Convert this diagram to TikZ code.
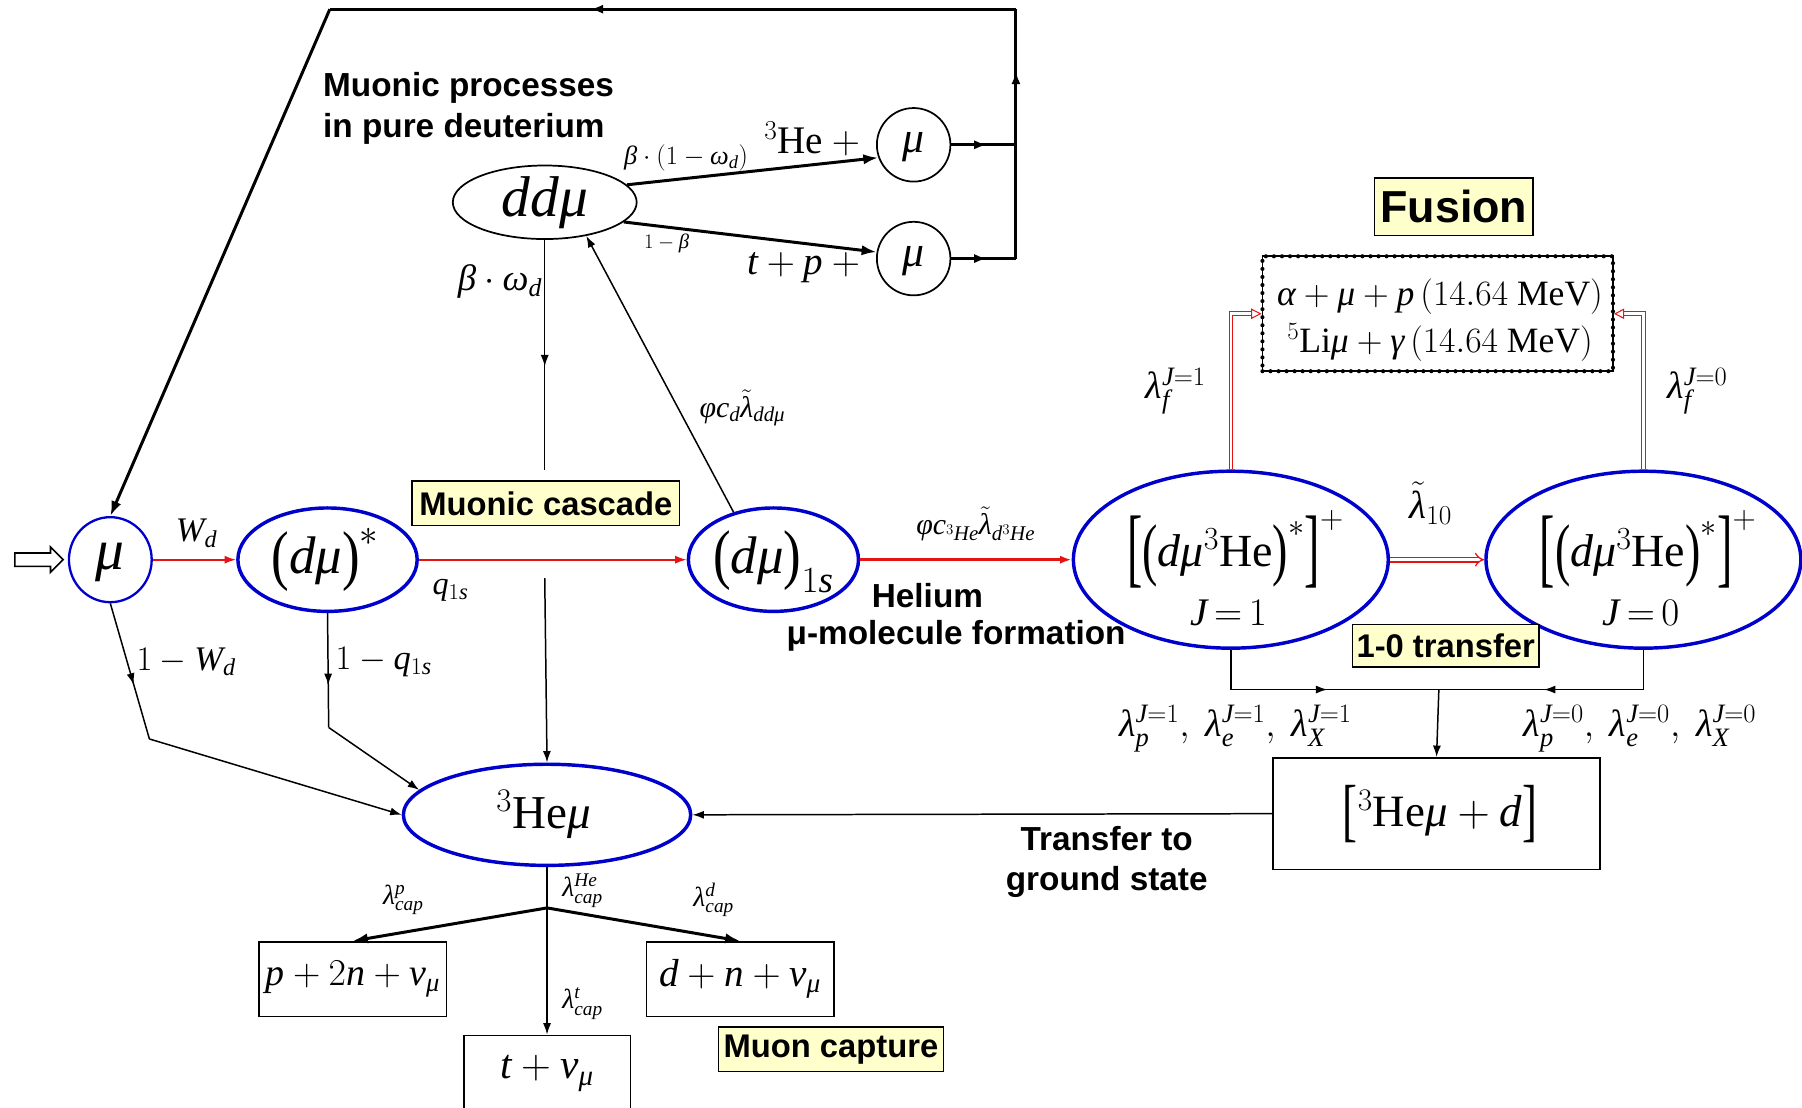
\RequirePackage{fix-cm}
\documentclass[tikz,border=0pt]{standalone}
\usepackage{graphicx}
\usepackage{fontspec}
\setmainfont{Liberation Serif}
\newfontfamily\lab{Liberation Sans}
\DeclareSymbolFont{tlet}{TU}{\rmdefault}{m}{it}
\DeclareSymbolFont{tup}{TU}{\rmdefault}{m}{n}
\count255=97
\loop \Umathcode\count255=7 \symtlet \count255 \advance\count255 by 1 \ifnum\count255<123 \repeat
\count255=65
\loop \Umathcode\count255=7 \symtlet \count255 \advance\count255 by 1 \ifnum\count255<91 \repeat
\count255=48
\loop \Umathcode\count255=0 \symtup \count255 \advance\count255 by 1 \ifnum\count255<58 \repeat
\Umathchardef\mu=0 \symtlet "03BC
\Umathchardef\beta=0 \symtlet "03B2
\Umathchardef\omega=0 \symtlet "03C9
\Umathchardef\lambda=0 \symtlet "03BB
\Umathchardef\varphi=0 \symtlet "03C6
\Umathchardef\alpha=0 \symtlet "03B1
\Umathchardef\gamma=0 \symtlet "03B3
\Umathchardef\nu=0 \symtlet "03BD
\usetikzlibrary{arrows.meta,shapes.geometric,shapes.arrows,decorations.markings,calc}
\definecolor{eblue}{RGB}{0,0,204}
\definecolor{ered}{RGB}{228,20,20}
\definecolor{ybg}{RGB}{255,255,204}
\newcommand\fsz[2]{\fontsize{#1}{#2}\selectfont}
\newcommand\eqs{\mkern-2mu=\mkern-2mu}
\newcommand\LD[3]{\mathopen{\raisebox{#3}{\scalebox{1}[#2]{#1}}}}
\newcommand\RD[3]{\mathclose{\raisebox{#3}{\scalebox{1}[#2]{#1}}}}
\begin{document}
\begin{tikzpicture}[x=1pt,y=-1pt,
  ell/.style={ellipse, draw, inner sep=0pt},
  bell/.style={ell, draw=eblue, line width=3pt},
  kell/.style={ell, draw=black, line width=1.5pt},
  ybox/.style={draw, fill=ybg, line width=1.2pt, font=\lab\bfseries\fsz{28.5}{32}, inner sep=3pt},
  blab/.style={font=\lab\bfseries\fsz{29}{35}, align=center, inner sep=0pt},
  tx/.style={inner sep=0pt, font=\fsz{#1}{#1}},
  con/.style={line width=1.3pt},
  heavy/.style={line width=2.6pt},
  tipS/.style={-{Latex[length=10pt,width=7pt]}},
  tipH/.style={-{Latex[length=13pt,width=9pt]}},
  midarr/.style={decoration={markings, mark=at position #1 with {\arrow{Latex[length=10pt,width=7pt]}}}, postaction={decorate}},
  midarrH/.style={decoration={markings, mark=at position #1 with {\arrow{Latex[length=11pt,width=8pt]}}}, postaction={decorate}},
  rbox/.style={draw, line width=1.5pt, inner sep=0pt},
  redarr/.style={draw=ered, line width=1.6pt, -{Latex[length=10pt,width=7pt]}},
  rdbl/.style={draw=ered, double=white, double distance=2.2pt, line width=0.9pt}
]
\useasboundingbox (0,0) rectangle (1568,964);

% ---------- main row ----------
\node[single arrow, draw, line width=1.4pt, fill=white, minimum height=42pt, minimum width=22pt, single arrow head extend=5pt, inner sep=5pt] (inp) at (31,487) {};
\node[bell, line width=2pt, minimum width=72, minimum height=74] (mu) at (96,487) {};
\node[tx=50] (muT) at (96,489) {$\mu$};
\node[bell, minimum width=156, minimum height=90] (dms) at (285,487) {};
\node[tx=46] (dmsT) at (283,487) {$\LD{(}{1.25}{-0.06em}d\mu\RD{)}{1.25}{-0.06em}^{*}$};
\node[bell, minimum width=148, minimum height=90] (d1s) at (673,487) {};
\node[tx=46] (d1sT) at (673,489) {$\LD{(}{1.25}{-0.06em}d\mu\RD{)}{1.25}{-0.06em}_{1s}$};
\node[bell, minimum width=274, minimum height=154] (J1) at (1071,487) {};
\node[tx=40] (J1a) at (1075,478) {$\LD{[}{1.9}{-0.22em}\LD{(}{1.5}{-0.12em}d\mu^{3}\mathrm{He}\RD{)}{1.5}{-0.12em}^{*}\RD{]}{1.9}{-0.22em}^{+}$};
\node[tx=34] (J1b) at (1069,533) {$J\eqs1$};
\node[bell, minimum width=274, minimum height=154] (J0) at (1430,487) {};
\node[tx=40] (J0a) at (1434,478) {$\LD{[}{1.9}{-0.22em}\LD{(}{1.5}{-0.12em}d\mu^{3}\mathrm{He}\RD{)}{1.5}{-0.12em}^{*}\RD{]}{1.9}{-0.22em}^{+}$};
\node[tx=34] (J0b) at (1428,533) {$J\eqs0$};
\node[bell, minimum width=250, minimum height=88] (hemu) at (476,709) {};
\node[tx=41] (hemuT) at (473,709) {${}^{3}\mathrm{He}\mu$};

% ---------- upper part ----------
\node[kell, minimum width=160, minimum height=64] (ddmu) at (474,176) {};
\node[tx=50] (ddmuT) at (474,176) {$dd\mu$};
\node[kell, minimum width=64, minimum height=64] (muA) at (795,126) {};
\node[tx=38] (muAT) at (795,128) {$\mu$};
\node[kell, minimum width=64, minimum height=64] (muB) at (795,225) {};
\node[tx=38] (muBT) at (795,227) {$\mu$};
\node[tx=34, anchor=east] (heplus) at (756,121) {${}^{3}\mathrm{He}+{}$};
\node[tx=34, anchor=east] (tpplus) at (756,233) {$t+p+{}$};
\node[blab, align=left, anchor=north west] (mproc) at (281,63) {Muonic processes\\in pure deuterium};

% ---------- fusion ----------
\node[ybox, font=\lab\bfseries\fsz{39}{44}, minimum width=138, minimum height=50, inner sep=0pt] (fusion) at (1265,180) {Fusion};
\node[rbox, minimum width=305, minimum height=100, line width=1.6pt,
      postaction={draw, line width=3.6pt, dash pattern=on 0pt off 7pt, line cap=round}] (fus) at (1251,273) {};
\node[tx=31] (fus1) at (1253,258) {$\alpha+\mu+p\,(14.64\ \mathrm{MeV})$};
\node[tx=31] (fus2) at (1253,298) {${}^{5}\mathrm{Li}\mu+\gamma\,(14.64\ \mathrm{MeV})$};

% ---------- lower right ----------
\node[rbox, minimum width=285, minimum height=97] (hed) at (1250,708) {};
\node[tx=39] (hedT) at (1253,708) {$\LD{[}{1.55}{-0.14em}{}^{3}\mathrm{He}\mu+d\RD{]}{1.55}{-0.14em}$};

% ---------- capture ----------
\node[rbox, minimum width=163, minimum height=65] (p2n) at (307,852) {};
\node[tx=33] (p2nT) at (307,852) {$p+2n+\nu_{\mu}$};
\node[rbox, minimum width=163, minimum height=65] (dnn) at (644,852) {};
\node[tx=34] (dnnT) at (644,852) {$d+n+\nu_{\mu}$};
\node[rbox, minimum width=145, minimum height=72] (tnu) at (476,937) {};
\node[tx=36] (tnuT) at (476,934) {$t+\nu_{\mu}$};

% ---------- yellow labels ----------
\node[ybox, minimum width=233, minimum height=39, inner sep=0pt] (casc) at (475,438) {Muonic cascade};
\node[ybox, minimum width=162, minimum height=37, inner sep=0pt] (tr10) at (1258,562) {1-0 transfer};
\node[ybox, minimum width=196, minimum height=39, inner sep=0pt] (mcap) at (723,913) {Muon capture};

% ---------- bold labels ----------
\node[blab] (helA) at (807,518) {Helium};
\node[blab] (helB) at (832,553) {μ-molecule formation};
\node[blab] (trg) at (963,750) {Transfer to\\ground state};

% ---------- connectors: top loop ----------
\coordinate (TL) at (287,8);
\coordinate (TR) at (884,8);
\coordinate (RA) at (884,126);
\coordinate (RB) at (884,225);
\draw[heavy, midarrH=0.55] (muA.east) -- (RA);
\draw[heavy, midarrH=0.55] (muB.east) -- (RB);
\draw[heavy, midarrH=0.75] (RB) -- (TR);
\draw[heavy, midarrH=0.62] (TR) -- (TL);
\draw[heavy, tipH] (TL) -- (mu.north);

\draw[heavy, tipH] (ddmu.12) -- (muA.200);
\draw[heavy, tipH] (ddmu.-14) -- (muB.170);
\node[tx=23] (lbA) at (597,137) {$\beta\cdot\bigl(1-\omega_{d}\bigr)$};
\node[tx=18] (lbB) at (580,212) {$1-\beta$};

\coordinate (Cc) at (474,409);
\draw[con, midarr=0.55] (ddmu.south) -- (Cc);
\node[tx=32] (lbw) at (435,245) {$\beta\cdot\omega_{d}$};
\draw[con, tipS] (d1s.130) -- (ddmu.-39);
\node[tx=26] (lbphi) at (646,355) {$\varphi c_{d}\tilde{\lambda}_{dd\mu}$};

% ---------- main row arrows ----------
\draw[redarr] (mu.east) -- (dms.west);
\draw[redarr] (dms.east) -- (d1s.west);
\draw[redarr, line width=2.4pt] (d1s.east) -- (J1.west);
\draw[draw=ered, double=white, double distance=3pt, line width=1.1pt, -{Implies}] (J1.east) -- (J0.west);
\node[tx=30] (lbW) at (171,464) {$W_{d}$};
\node[tx=28] (lbq) at (392,514) {$q_{1s}$};
\node[tx=26] (lbhe) at (849,456) {$\varphi c_{{}^{3}He}\tilde{\lambda}_{d^{3}He}$};
\node[tx=34] (lb10) at (1245,438) {$\tilde{\lambda}_{10}$};

% ---------- fusion arrows ----------
\draw[rdbl, -{Triangle[open,length=9pt,width=9pt]}] (J1.north) |- (fus.west);
\draw[rdbl, -{Triangle[open,length=9pt,width=9pt]}] (J0.north) |- (fus.east);
\node[tx=33] (lbf1) at (1023,340) {$\lambda_{f}^{J=1}$};
\node[tx=33] (lbf0) at (1477,340) {$\lambda_{f}^{J=0}$};

% ---------- J branches ----------
\coordinate (Bj) at (1252,600);
\draw[con, midarr=0.55] (J1.south) |- (Bj);
\draw[con, midarr=0.57] (J0.south) |- (Bj);
\draw[con, tipS] (Bj) -- (hed.north);
\node[tx=33] (lbJ1) at (1075,634) {$\lambda_{p}^{J=1},\ \lambda_{e}^{J=1},\ \lambda_{X}^{J=1}$};
\node[tx=33] (lbJ0) at (1427,634) {$\lambda_{p}^{J=0},\ \lambda_{e}^{J=0},\ \lambda_{X}^{J=0}$};
\draw[con, tipS] (hed.west) -- (hemu.east);

% ---------- into 3He mu ----------
\coordinate (K1) at (130,643);
\coordinate (K2) at (286,633);
\coordinate (V2) at (474,503);
\draw[con, midarr=0.6] (mu.south) -- (K1);
\draw[con, tipS] (K1) -- (hemu.west);
\draw[con, midarr=0.63] (dms.south) -- (K2);
\draw[con, tipS] (K2) -- (hemu.169);
\draw[con, tipS] (V2) -- (hemu.north);
\node[tx=30] (lb1W) at (162,576) {$1-W_{d}$};
\node[tx=30] (lb1q) at (334,576) {$1-q_{1s}$};

% ---------- capture ----------
\coordinate (Br) at (476,790);
\draw[con] (hemu.south) -- (Br);
\draw[con, tipS] (Br) -- (tnu.north);
\draw[heavy, tipH] (Br) -- (p2n.north);
\draw[heavy, tipH] (Br) -- (dnn.north);
\node[tx=24] (lcp) at (351,783) {$\lambda_{cap}^{p}$};
\node[tx=24] (lche) at (507,775) {$\lambda_{cap}^{He}$};
\node[tx=24] (lcd) at (621,783) {$\lambda_{cap}^{d}$};
\node[tx=24] (lct) at (507,873) {$\lambda_{cap}^{t}$};
\end{tikzpicture}
\end{document}
